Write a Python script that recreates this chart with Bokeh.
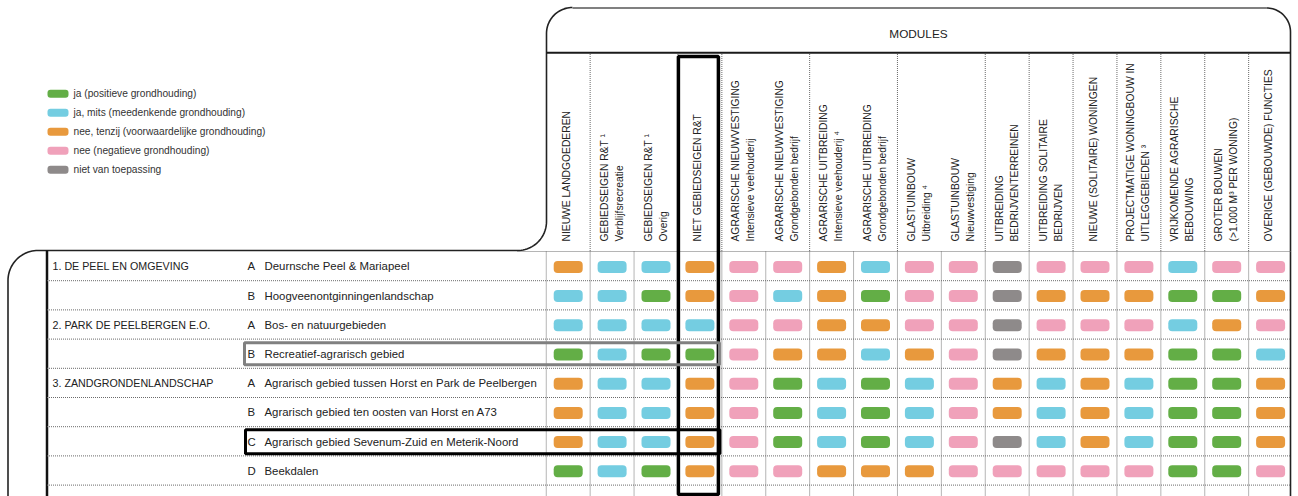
import math
from bokeh.plotting import figure
from bokeh.models import Range1d, ColumnDataSource
from bokeh.core.properties import value
from bokeh.embed import file_html
from bokeh.resources import INLINE

# ---------------- data ----------------
legend_codes = ["j", "m", "t", "n", "x"]
legend_labels = [
    "ja (positieve grondhouding)",
    "ja, mits (meedenkende grondhouding)",
    "nee, tenzij (voorwaardelijke grondhouding)",
    "nee (negatieve grondhouding)",
    "niet van toepassing",
]
column_headers = [
    ["NIEUWE  LANDGOEDEREN"],
    ["GEBIEDSEIGEN R&T \u00b9", "Verblijfsrecreatie"],
    ["GEBIEDSEIGEN R&T \u00b9", "Overig"],
    ["NIET GEBIEDSEIGEN R&T"],
    ["AGRARISCHE NIEUWVESTIGING", "Intensieve veehouderij"],
    ["AGRARISCHE NIEUWVESTIGING", "Grondgebonden bedrijf"],
    ["AGRARISCHE UITBREIDING", "Intensieve veehouderij \u2074"],
    ["AGRARISCHE UITBREIDING", "Grondgebonden bedrijf"],
    ["GLASTUINBOUW", "Uitbreiding \u2074"],
    ["GLASTUINBOUW", "Nieuwvestiging"],
    ["UITBREIDING", "BEDRIJVENTERREINEN"],
    ["UITBREIDING SOLITAIRE", "BEDRIJVEN"],
    ["NIEUWE (SOLITAIRE) WONINGEN"],
    ["PROJECTMATIGE WONINGBOUW IN", "UITLEGGEBIEDEN \u00b3"],
    ["VRIJKOMENDE AGRARISCHE", "BEBOUWING"],
    ["GROTER BOUWEN", "(>1.000 M\u00b3 PER WONING)"],
    ["OVERIGE (GEBOUWDE) FUNCTIES"],
]
section_labels = ["1. DE PEEL EN OMGEVING", "", "2. PARK DE PEELBERGEN E.O.", "",
                  "3. ZANDGRONDENLANDSCHAP", "", "", ""]
area_letters = ["A", "B", "A", "B", "A", "B", "C", "D"]
area_names = [
    "Deurnsche Peel & Mariapeel",
    "Hoogveenontginningenlandschap",
    "Bos- en natuurgebieden",
    "Recreatief-agrarisch gebied",
    "Agrarisch gebied tussen Horst en Park de Peelbergen",
    "Agrarisch gebied ten oosten van Horst en A73",
    "Agrarisch gebied Sevenum-Zuid en Meterik-Noord",
    "Beekdalen",
]
# j = ja, m = ja mits, t = nee tenzij, n = nee, x = niet van toepassing
status = [
    "t m m t n n t m n n x n n n m n n".split(),
    "m m j t n m t j n n x t t t j j t".split(),
    "m m m m n n t t n n x n n n m t n".split(),
    "j m j j n t t m t n x t t t j j m".split(),
    "t m m t n j m j m n t m t m j j t".split(),
    "t m m t n j m j m n t m t m j j t".split(),
    "t m m t n j m j m n x m t m j j t".split(),
    "j m j t n n t t t n n n n n j j n".split(),
]
gray_box_row = 3
black_box_row = 6
black_box_col = 3

# ---------------- style ----------------
COLORS = {"j": "#63ae46", "m": "#74cde1", "t": "#e8993d", "n": "#f0a1ba", "x": "#8e8a8a"}
FONT = "Liberation Sans"
TXT = "#222222"
DOT = "#6a6a6a"

COL0, COLW = 567.7, 43.9
ROW_TOP, ROWH = 251.0, 29.2
X_LEFT, X_RIGHT = 546.0, 1290.0


def col_x(c):
    return COL0 + c * COLW


def row_y(r):
    return ROW_TOP + ROWH * (r + 0.5) + 0.8


p = figure(width=1298, height=496, x_range=Range1d(0, 1298), y_range=Range1d(496, 0),
           output_backend="svg", toolbar_location=None, x_axis_type=None, y_axis_type=None,
           min_border=0, outline_line_color=None, background_fill_color="white")
p.grid.visible = False

# ---------------- outline ----------------
def arc(cx, cy, r, a0, a1, n=24):
    xs, ys = [], []
    for i in range(n + 1):
        a = math.radians(a0 + (a1 - a0) * i / n)
        xs.append(cx + r * math.cos(a))
        ys.append(cy + r * math.sin(a))
    return xs, ys

xs, ys = [7.5, 7.5], [500, 280]
ax, ay = arc(37.5, 280, 30, 180, 270); xs += ax; ys += ay
xs += [517]; ys += [250]
ax, ay = arc(517, 221, 29, 90, 0); xs += ax; ys += ay
xs += [546]; ys += [33]
ax, ay = arc(572, 33, 26, 180, 270); xs += ax; ys += ay
p.line(xs, ys, line_color="#222222", line_width=1.6)
p.line([572, 1266], [7.5, 7.5], line_color="#808080", line_width=2)
ax, ay = arc(1266, 31.5, 24, 270, 360)
p.line(ax + [1290], ay + [500], line_color="#222222", line_width=1.6)
p.line([X_LEFT, X_RIGHT], [52.3, 52.3], line_color="#1a1a1a", line_width=2)
p.line([46.5, 46.5], [250, 500], line_color="#111111", line_width=2.5)

# ---------------- dotted grid ----------------
ncol = len(column_headers)
nrow = len(area_names)
gx, gy = [], []
for b in range(ncol):
    xb = col_x(b) - COLW / 2
    gx.append([xb, xb]); gy.append([251, 500])
for b in range(1, ncol):
    if column_headers[b][0] != column_headers[b - 1][0]:
        xb = col_x(b) - COLW / 2
        gx.append([xb, xb]); gy.append([53.5, 251])
gx.append([517, X_RIGHT]); gy.append([251, 251])
for r in range(1, nrow + 1):
    yb = ROW_TOP + ROWH * r
    gx.append([46.5, X_RIGHT]); gy.append([yb, yb])
p.multi_line(gx, gy, line_color=DOT, line_width=1, line_dash="1 1")

# ---------------- cells ----------------
cx, cy, cc = [], [], []
for r, row in enumerate(status):
    for c, code in enumerate(row):
        cx.append(col_x(c)); cy.append(row_y(r)); cc.append(COLORS[code])
cells = ColumnDataSource(dict(
    left=[x - 14.5 for x in cx], right=[x + 14.5 for x in cx],
    top=[y - 6 for y in cy], bottom=[y + 6 for y in cy], color=cc))
p.quad(left="left", right="right", top="top", bottom="bottom", source=cells,
       fill_color="color", line_color=None, border_radius=4)

# ---------------- highlight boxes ----------------
bx = col_x(black_box_col)
p.quad(left=[bx - 21.5], right=[bx + 18.5], top=[56], bottom=[494],
       fill_color=None, line_color="#000000", line_width=3.5)
gyc = ROW_TOP + ROWH * (gray_box_row + 0.5)
p.quad(left=[244], right=[bx + 19.5], top=[gyc - 11], bottom=[gyc + 11],
       fill_color=None, line_color="#808080", line_width=3)
byc = ROW_TOP + ROWH * (black_box_row + 0.5)
p.quad(left=[245], right=[bx + 20], top=[byc - 11.5], bottom=[byc + 12.5],
       fill_color=None, line_color="#000000", line_width=3)

# ---------------- row texts ----------------
ty = [row_y(r) - 0.5 for r in range(nrow)]
for xs_, txts, fs in ((52, section_labels, "10.7px"), (247, area_letters, "11.4px"),
                      (264, area_names, "11.4px")):
    p.text(x=[xs_] * nrow, y=ty, text=txts, text_font=value(FONT),
           text_font_size=value(fs), text_color=TXT, text_baseline="middle",
           text_align="left")

# ---------------- column headers ----------------
hx, hy, ht = [], [], []
for c, lines in enumerate(column_headers):
    offs = [-2] if len(lines) == 1 else [-8, 7]
    for off, t in zip(offs, lines):
        hx.append(col_x(c) + off); hy.append(241); ht.append(t)
p.text(x=hx, y=hy, text=ht, angle=math.pi / 2, text_font=value(FONT),
       text_font_size=value("10.3px"), text_color=TXT, text_baseline="middle", text_align="left")
p.text(x=[918], y=[33], text=["MODULES"], text_font=value(FONT),
       text_font_size=value("11.8px"), text_color=TXT, text_baseline="middle", text_align="center")

# ---------------- legend ----------------
ly = [93.3 + 19 * i for i in range(len(legend_labels))]
p.quad(left=[47] * 5, right=[68] * 5, top=[y - 4 for y in ly], bottom=[y + 4 for y in ly],
       fill_color=[COLORS[k] for k in legend_codes], line_color=None, border_radius=3)
p.text(x=[73] * 5, y=ly, text=legend_labels, text_font=value(FONT),
       text_font_size=value("10.2px"), text_color="#333333", text_baseline="middle", text_align="left")

open("out.html", "w").write(file_html(p, INLINE))
